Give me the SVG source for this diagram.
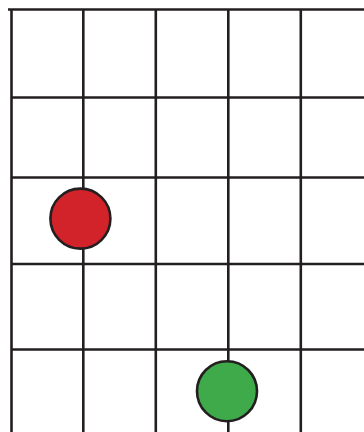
<svg xmlns="http://www.w3.org/2000/svg" width="364" height="432" viewBox="0 0 364 432">
<style>
.g{stroke:#231f20;stroke-width:2.6;fill:none}
.n{stroke:#231f20;stroke-width:2.6}
</style>
<rect width="364" height="432" fill="#ffffff"/>
<g id="grid" class="g">
<line x1="8" y1="9.5" x2="364" y2="9.5"/>
<line x1="11.5" y1="97.5" x2="364" y2="97.5"/>
<line x1="11.5" y1="177.5" x2="364" y2="177.5"/>
<line x1="11.5" y1="264" x2="364" y2="264"/>
<line x1="11.5" y1="349.5" x2="364" y2="349.5"/>
<line x1="11.5" y1="9" x2="11.5" y2="432"/>
<line x1="83.3" y1="9" x2="83.3" y2="432"/>
<line x1="155.8" y1="9" x2="155.8" y2="432"/>
<line x1="228.3" y1="9" x2="228.3" y2="432"/>
<line x1="300.8" y1="9" x2="300.8" y2="432"/>
</g>
<g id="red"><circle class="n" cx="80.4" cy="218.6" r="30" fill="#d2232a"/></g>
<g id="green"><circle class="n" cx="227" cy="391.2" r="30" fill="#3eaa4a"/></g>
</svg>
